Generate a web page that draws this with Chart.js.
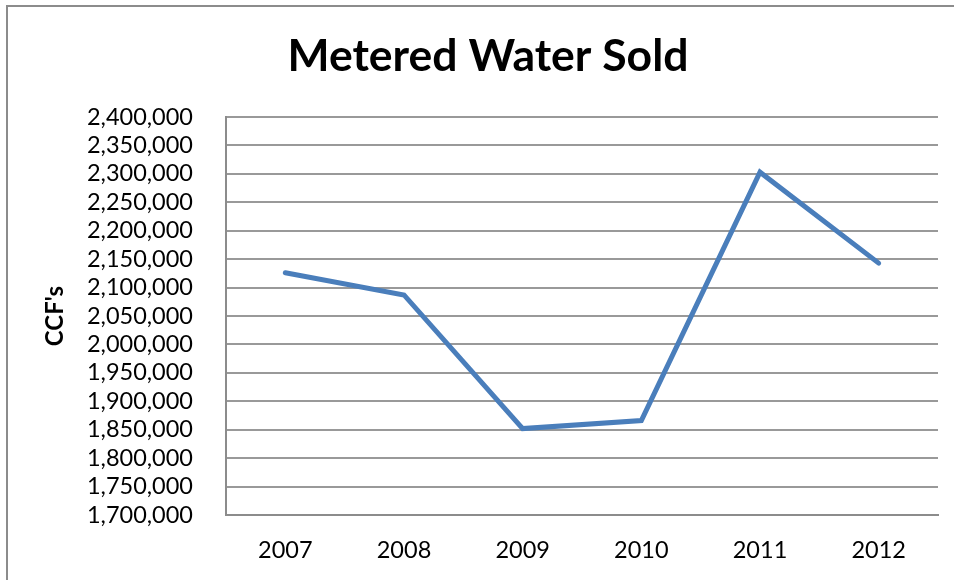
<!DOCTYPE html>
<html>
<head>
<meta charset="utf-8">
<script src="https://cdn.jsdelivr.net/npm/chart.js@4/dist/chart.umd.min.js"></script>
<style>
html,body{margin:0;padding:0;background:#fff;}
#wrap{width:954px;height:580px;position:relative;}
</style>
</head>
<body>
<div id="wrap"><canvas id="c" width="954" height="580"></canvas></div>
<script>
const years = ['2007', '2008', '2009', '2010', '2011', '2012'];
const waterSold = [2126000, 2087000, 1852000, 1866000, 2303000, 2143000];
const yMin = 1700000;
const yMax = 2400000;
const yStep = 50000;
const yTickLabels = ['1,700,000','1,750,000','1,800,000','1,850,000','1,900,000','1,950,000','2,000,000','2,050,000','2,100,000','2,150,000','2,200,000','2,250,000','2,300,000','2,350,000','2,400,000'];

const frame = {
  id: 'frame',
  beforeDraw(chart) {
    const ctx = chart.ctx;
    ctx.save();
    ctx.fillStyle = '#fff';
    ctx.fillRect(0, 0, chart.width, chart.height);
    ctx.strokeStyle = '#8c8c8c';
    ctx.lineWidth = 2;
    ctx.beginPath();
    ctx.moveTo(7, 600);
    ctx.lineTo(7, 6);
    ctx.lineTo(970, 6);
    ctx.stroke();
    ctx.restore();
  }
};

new Chart(document.getElementById('c'), {
  type: 'line',
  data: {
    labels: years,
    datasets: [{
      label: 'Metered Water Sold',
      data: waterSold,
      borderColor: '#4a7ebb',
      backgroundColor: '#4a7ebb',
      borderWidth: 5,
      borderCapStyle: 'round',
      borderJoinStyle: 'miter',
      tension: 0,
      pointRadius: 0,
      fill: false
    }]
  },
  options: {
    responsive: false,
    animation: false,
    layout: { padding: { left: 38, right: 16, top: 0, bottom: 0 } },
    plugins: {
      legend: { display: false },
      tooltip: { enabled: false },
      title: {
        display: true,
        text: 'Metered Water Sold',
        color: '#000',
        font: { family: 'Lato', size: 44.5, weight: 'bold', lineHeight: 1.2 },
        padding: { top: 30, bottom: 33.6 }
      }
    },
    scales: {
      x: {
        offset: true,
        grid: { display: false, drawTicks: false },
        border: { display: true, color: '#8c8c8c', width: 2 },
        ticks: { color: '#000', font: { family: 'Lato', size: 23.5 }, padding: 21, maxRotation: 0, autoSkip: false },
        afterFit(scale) { scale.height = 65; }
      },
      y: {
        min: yMin,
        max: yMax,
        grid: { color: '#999999', lineWidth: 2, drawTicks: false },
        border: { display: true, color: '#8c8c8c', width: 2 },
        ticks: {
          stepSize: yStep,
          autoSkip: false,
          color: '#000',
          font: { family: 'Lato', size: 23.5 },
          padding: 33,
          callback: (v, i) => yTickLabels[i]
        },
        title: {
          display: true,
          text: "CCF's",
          color: '#000',
          font: { family: 'Lato', size: 24, weight: 'bold', lineHeight: 1.2 },
          padding: { top: 3, bottom: 0 }
        },
        afterFit(scale) { scale.width = 188; }
      }
    }
  },
  plugins: [frame]
});
</script>
</body>
</html>
